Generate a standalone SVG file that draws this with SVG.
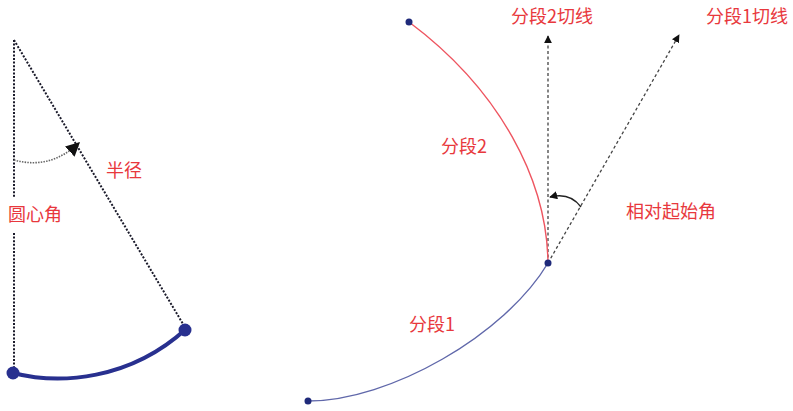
<svg xmlns="http://www.w3.org/2000/svg" width="793" height="411" viewBox="0 0 793 411">
<style>
.lbl{font-family:"Noto Sans CJK SC","Liberation Sans",sans-serif;font-size:18px;fill:#e8383d}
.dot{stroke:#1a1a2a;stroke-width:2;stroke-dasharray:2 1.6;fill:none}
.dash{stroke:#444;stroke-width:1.3;stroke-dasharray:3 2.5;fill:none}
.ang{stroke:#222;stroke-width:1.3;fill:none}
</style>
<defs>
<marker id="ah" viewBox="0 0 10 10" refX="9" refY="5" markerWidth="8" markerHeight="8" markerUnits="userSpaceOnUse" orient="auto"><path d="M0,0 L10,5 L0,10 Z" fill="#111"/></marker>
<marker id="ahBig" viewBox="0 0 10 10" refX="9" refY="5" markerWidth="14" markerHeight="14" markerUnits="userSpaceOnUse" orient="auto"><path d="M0,0 L10,5 L0,10 Z" fill="#111"/></marker>
</defs>
<rect width="793" height="411" fill="#fff"/>
<g id="connectors">
<line class="dot" x1="14" y1="40" x2="14" y2="197"/>
<line class="dot" x1="14" y1="233" x2="14" y2="372"/>
<line class="dot" x1="14" y1="40" x2="186" y2="329"/>
<path d="M14,160 Q 50,170 79,143" stroke="#666" stroke-width="1.6" stroke-dasharray="1.5 1.2" fill="none" marker-end="url(#ahBig)"/>
<path d="M13,373 C 60,385 130,380 186,329" stroke="#28308f" stroke-width="4" fill="none"/>
<line class="dash" x1="548" y1="263" x2="548" y2="36" marker-end="url(#ah)" stroke-dasharray="2 1.8"/>
<line class="dash" x1="548" y1="263" x2="679" y2="35" marker-end="url(#ah)"/>
<path class="ang" d="M581,207 Q 570,192 550,197" marker-end="url(#ah)"/>
<path d="M308,401 C 390,401 505,335 548,263" stroke="#6068aa" stroke-width="1.4" fill="none"/>
<path d="M548,263 C 547,180 500,90 409,22" stroke="#ee5560" stroke-width="1.4" fill="none"/>
</g>
<g id="n-left-end1"><circle cx="13" cy="373" r="6.5" fill="#28308f"/></g>
<g id="n-left-end2"><circle cx="185" cy="330" r="6.5" fill="#28308f"/></g>
<g id="n-seg1-start"><circle cx="308" cy="401" r="3.5" fill="#1f2a7a"/></g>
<g id="n-joint"><circle cx="548" cy="263" r="3.5" fill="#1f2a7a"/></g>
<g id="n-seg2-end"><circle cx="409" cy="22" r="3.5" fill="#1f2a7a"/></g>
<g id="labels">
<text class="lbl" x="106" y="177">半径</text>
<text class="lbl" x="8" y="221">圆心角</text>
<text class="lbl" x="511" y="23">分段2切线</text>
<text class="lbl" x="706" y="23">分段1切线</text>
<text class="lbl" x="441" y="153">分段2</text>
<text class="lbl" x="626" y="218">相对起始角</text>
<text class="lbl" x="409" y="331">分段1</text>
</g>
</svg>
